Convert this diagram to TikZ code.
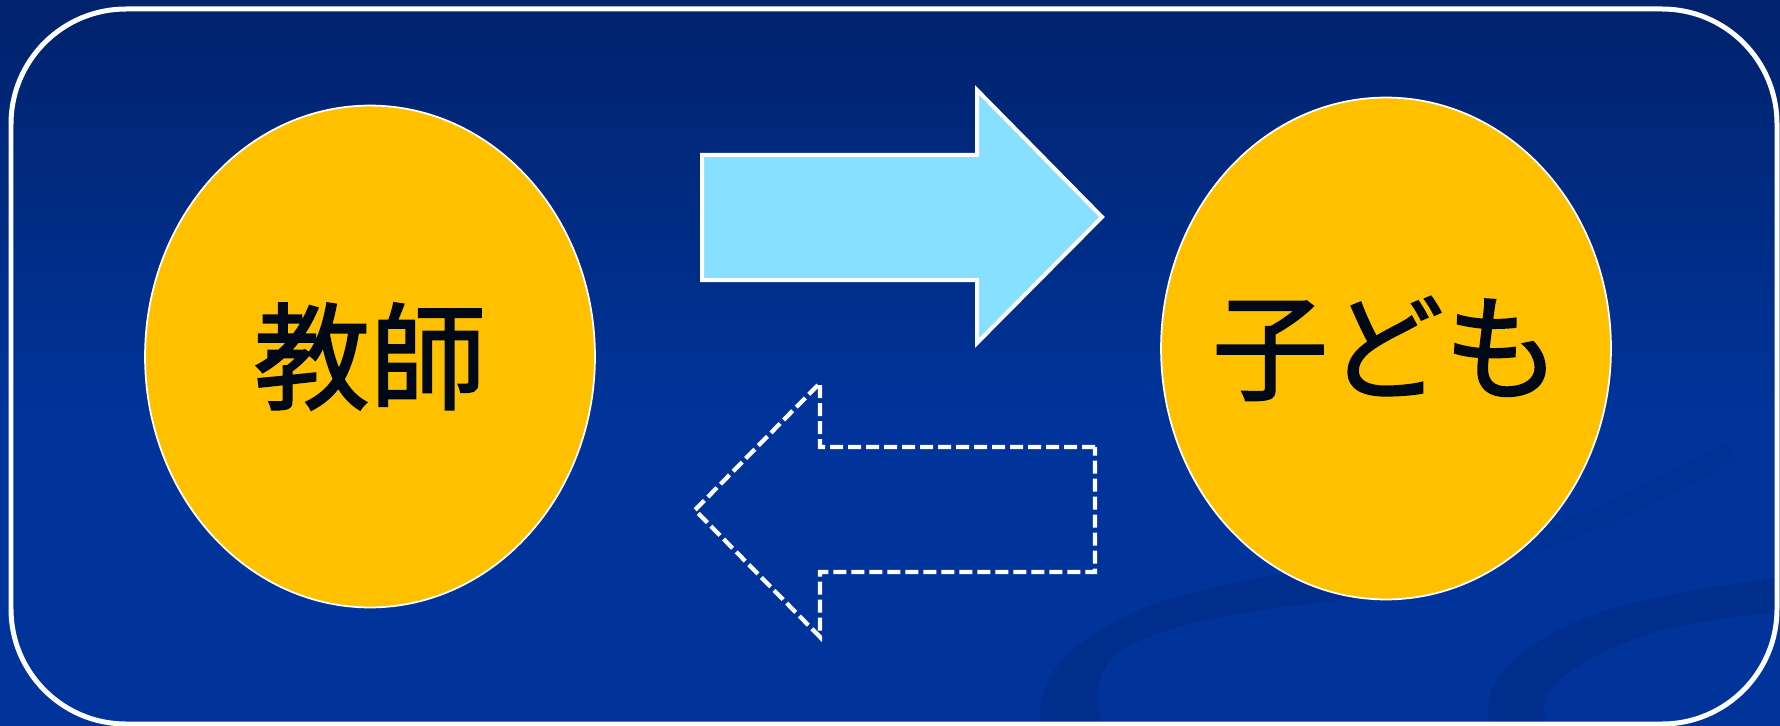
\documentclass[tikz,border=0pt]{standalone}
\usepackage{fontspec}
\newfontfamily\jpfont[FakeBold=1.6]{Noto Sans CJK JP}
\usepackage{tikz}
\usetikzlibrary{shapes.geometric}
\definecolor{bgtop}{RGB}{1,34,108}
\definecolor{bgblue}{RGB}{0,52,154}
\definecolor{swoosh}{RGB}{0,46,140}
\definecolor{swooshfaint}{RGB}{0,50,150}
\definecolor{gold}{RGB}{255,192,0}
\definecolor{sky}{RGB}{135,224,255}
\definecolor{ink}{RGB}{0,8,22}

\begin{document}
\begin{tikzpicture}[x=0.02cm,y=-0.02cm,
  person/.style={ellipse,draw=white,line width=1pt,fill=gold,minimum width=9cm,minimum height=10.04cm,inner sep=0pt},
  persontext/.style={inner sep=0pt,text=ink,font=\jpfont\fontsize{66}{78}\selectfont},
  fullarrow/.style={draw=white,line width=0.08cm,fill=sky,line join=miter},
  dasharrow/.style={draw=white,line width=0.085cm,dash pattern=on 0.26cm off 0.1cm}]
\useasboundingbox (0,0) rectangle (1780,726);
\fill[bgblue] (0,0) rectangle (1780,726);
\shade[top color=bgtop,bottom color=bgblue] (0,0) rectangle (1780,420);
\fill[swoosh] (1040,726) .. controls (1035,680) and (1065,640) .. (1150,605)
   .. controls (1230,580) and (1300,570) .. (1360,564) -- (1360,598)
   .. controls (1260,608) and (1170,622) .. (1125,648)
   .. controls (1095,668) and (1090,700) .. (1105,726) -- cycle;
\draw[swooshfaint,line width=0.4cm] (1340,585) .. controls (1500,565) and (1620,515) .. (1730,450);
\fill[swoosh] (1490,726) .. controls (1480,690) and (1500,650) .. (1600,612)
   .. controls (1680,590) and (1740,582) .. (1780,578) -- (1780,612)
   .. controls (1720,618) and (1660,626) .. (1620,645)
   .. controls (1552,672) and (1535,700) .. (1548,726) -- cycle;
\draw[white,line width=0.1cm,rounded corners=2.3cm] (11,9) rectangle (1777,724);
\node[person] (teacher) at (370,356.5) {};
\node[person] (child) at (1386,348.5) {};
\node[persontext] (teachername) at (teacher.center) {教師};
\node[persontext] (childname) at (child.center) {子ども};
\draw[fullarrow] (702,155) -- (977,155) -- (977,90) -- (1102,217) -- (977,343)
   -- (977,280) -- (702,280) -- cycle;
\draw[dasharrow] (1095,447) -- (820,447) -- (820,383) -- (695,510) -- (820,637)
   -- (820,572) -- (1095,572) -- cycle;
\end{tikzpicture}
\end{document}
